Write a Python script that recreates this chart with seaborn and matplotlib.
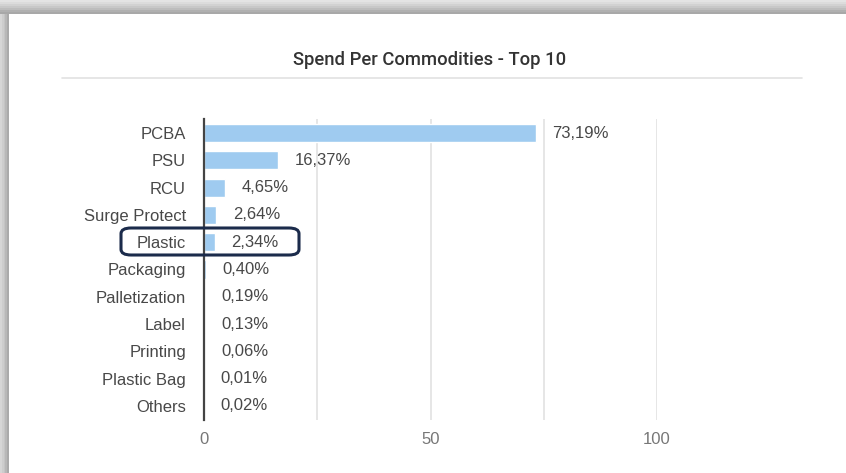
import matplotlib
matplotlib.use("Agg")
import matplotlib.pyplot as plt
import seaborn as sns
import pandas as pd
from matplotlib.patches import Rectangle, FancyBboxPatch
from matplotlib.lines import Line2D

categories = ["PCBA", "PSU", "RCU", "Surge Protect", "Plastic", "Packaging",
              "Palletization", "Label", "Printing", "Plastic Bag", "Others"]
values = [73.19, 16.37, 4.65, 2.64, 2.34, 0.40, 0.19, 0.13, 0.06, 0.01, 0.02]
value_labels = ["73,19%", "16,37%", "4,65%", "2,64%", "2,34%", "0,40%",
                "0,19%", "0,13%", "0,06%", "0,01%", "0,02%"]
x_ticks = [0, 50, 100]
title = "Spend Per Commodities - Top 10"

sns.set_theme(style="white")
plt.rcParams['font.family'] = ['Liberation Sans', 'DejaVu Sans']

W, H = 846, 473
fig = plt.figure(figsize=(W / 100, H / 100), dpi=100)
fig.patch.set_facecolor("white")

def fx(px):
    return px / W

def fy(py):
    return 1 - py / H

# screenshot frame (gray shadow bands top and left)
top_cols = ["#e4e4e4", "#dcdcdc", "#d2d2d2", "#c8c8c8", "#bdbdbd", "#b0b0b0", "#a8a8a8"]
for i, c in enumerate(top_cols):
    fig.patches.append(Rectangle((0, fy(2 * (i + 1))), 1, 2 / H, transform=fig.transFigure,
                                 facecolor=c, edgecolor="none", zorder=0))
left_cols = ["#d6d6d6", "#cdcdcd", "#c4c4c4", "#b8b8b8", "#aaaaaa"]
for i, c in enumerate(left_cols):
    x0 = i * 1.8
    fig.patches.append(Rectangle((fx(x0), 0), 1.8 / W, fy(14), transform=fig.transFigure,
                                 facecolor=c, edgecolor="none", zorder=0))

df = pd.DataFrame({"category": categories, "value": values})

ax = fig.add_axes([fx(204), fy(419.6), fx(657) - fx(204), (419.6 - 119.4) / H])
sns.barplot(data=df, x="value", y="category", orient="h", color="#9fcbf0",
            saturation=1, width=0.66, ax=ax, zorder=3)

ax.set_xlim(0, 100)
ax.set_ylim(10.5, -0.5)
ax.set_xticks(x_ticks)
ax.set_xticklabels([str(t) for t in x_ticks])
for g in [25, 50, 75, 100]:
    ax.axvline(g, color="#e2e2e2", lw=1.2, zorder=1)
for s in ["top", "right", "bottom"]:
    ax.spines[s].set_visible(False)
ax.spines["left"].set_color("#444444")
ax.spines["left"].set_linewidth(1.6)
ax.spines["left"].set_zorder(5)
ax.set_xlabel("")
ax.set_ylabel("")
ax.tick_params(axis="y", length=0, pad=13, labelsize=12, labelcolor="#484848")
ax.tick_params(axis="x", length=0, pad=9, labelsize=12, labelcolor="#777777")

for i, (v, lab) in enumerate(zip(values, value_labels)):
    ax.annotate(lab, xy=(v, i), xytext=(12, 0), textcoords="offset points",
                va="center", ha="left", fontsize=12, color="#484848")

# title and rule
fig.text(fx(430), fy(60), title, ha="center", va="center", fontsize=13.3,
         color="#333333", family=["Roboto", "DejaVu Sans"], fontweight="medium")
fig.add_artist(Line2D([fx(62), fx(802)], [fy(78), fy(78)], transform=fig.transFigure,
                      color="#e2e2e2", lw=1.2))

# highlight box around Plastic
fig.patches.append(FancyBboxPatch((fx(121), fy(255)), fx(299) - fx(121), (255 - 228) / H,
                                  boxstyle="round,pad=0,rounding_size=0.012",
                                  transform=fig.transFigure, facecolor="none",
                                  edgecolor="#1b2b4b", lw=2.2, zorder=10))

fig.savefig("out.png", dpi=100)
